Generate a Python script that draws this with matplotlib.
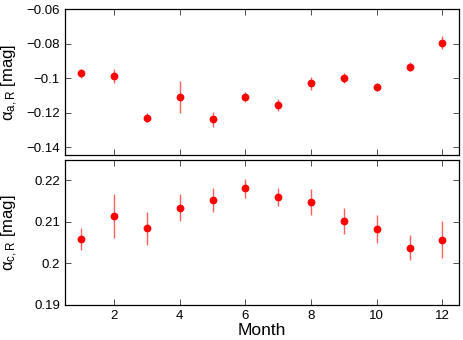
import matplotlib
matplotlib.use('Agg')
import matplotlib.pyplot as plt

plt.rcParams['font.family'] = ['Liberation Sans', 'DejaVu Sans']
plt.rcParams['mathtext.fontset'] = 'custom'
plt.rcParams['mathtext.rm'] = 'Liberation Sans'
plt.rcParams['mathtext.it'] = 'Liberation Sans:italic'

months = [1, 2, 3, 4, 5, 6, 7, 8, 9, 10, 11, 12]

alpha_a = [-0.0971, -0.0986, -0.1229, -0.1109, -0.1239, -0.1109,
           -0.1157, -0.1029, -0.0998, -0.1050, -0.0934, -0.0794]
alpha_a_err = [0.0025, 0.0039, 0.0026, 0.0095, 0.0043, 0.0030,
               0.0035, 0.0039, 0.0030, 0.0025, 0.0026, 0.0038]

alpha_c = [0.2058, 0.2114, 0.2084, 0.2134, 0.2152, 0.2180,
           0.2160, 0.2148, 0.2102, 0.2083, 0.2038, 0.2057]
alpha_c_err = [0.0027, 0.0053, 0.0039, 0.0032, 0.0028, 0.0022,
               0.0022, 0.0031, 0.0031, 0.0034, 0.0031, 0.0045]

fig = plt.figure(figsize=(4.63, 3.40), dpi=100)
ax1 = fig.add_axes([0.140, 0.544, 0.851, 0.429])
ax2 = fig.add_axes([0.140, 0.103, 0.851, 0.426])

for ax, y, e in [(ax1, alpha_a, alpha_a_err), (ax2, alpha_c, alpha_c_err)]:
    ax.errorbar(months, y, yerr=e, fmt='none', ecolor='#ff6060', elinewidth=1.0)
    ax.plot(months, y, 'o', color='red', markersize=4.6)
    ax.set_xlim(0.5, 12.5)
    ax.set_xticks([2, 4, 6, 8, 10, 12])
    ax.tick_params(direction='in', top=True, right=True, labelsize=9.5,
                   length=4, width=0.6, colors='#333333', labelcolor='black')
    for s in ax.spines.values():
        s.set_linewidth(0.9)

ax1.set_ylim(-0.1445, -0.06)
ax1.set_yticks([-0.14, -0.12, -0.1, -0.08, -0.06])
ax1.set_yticklabels(['\u22120.14', '\u22120.12', '\u22120.1', '\u22120.08', '\u22120.06'])
ax1.tick_params(labelbottom=False)
ax1.set_ylabel('\u03b1$_{\\mathrm{a,R}}$ [mag]', fontsize=12)

ax2.set_ylim(0.19, 0.2248)
ax2.set_yticks([0.19, 0.2, 0.21, 0.22])
ax2.set_yticklabels(['0.19', '0.2', '0.21', '0.22'])
ax2.set_ylabel('\u03b1$_{\\mathrm{c,R}}$ [mag]', fontsize=12)
ax2.set_xlabel('Month', fontsize=12.5, labelpad=1)

ax1.yaxis.set_label_coords(-0.115, 0.5)
ax2.yaxis.set_label_coords(-0.115, 0.5)

fig.savefig('out.png', dpi=100)
